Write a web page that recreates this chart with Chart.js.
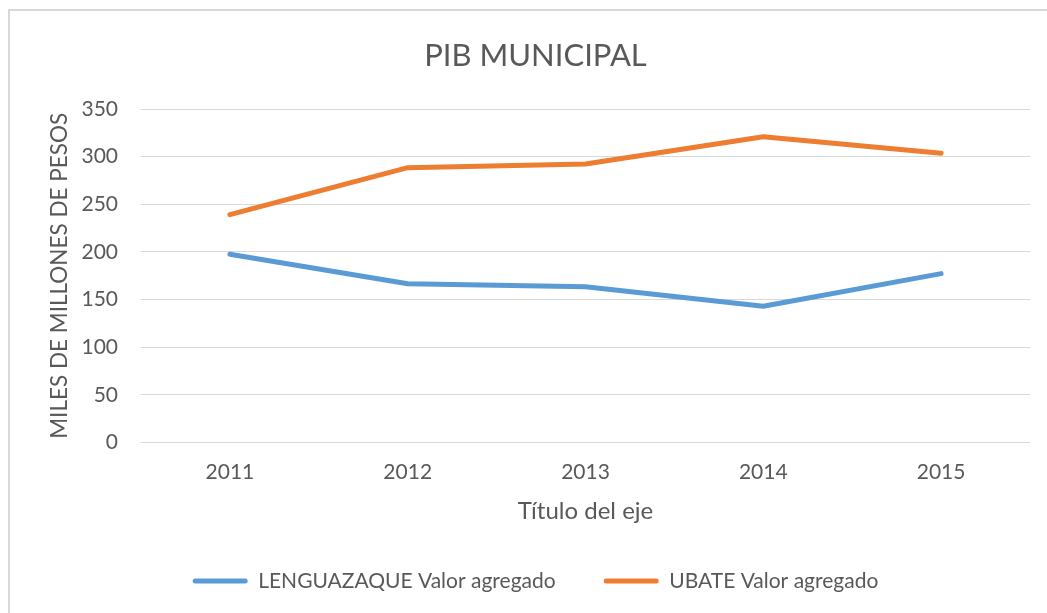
<!DOCTYPE html>
<html>
<head>
<meta charset="utf-8">
<script src="https://cdn.jsdelivr.net/npm/chart.js@4.4.1/dist/chart.umd.min.js"></script>
<style>
  html, body { margin: 0; padding: 0; background: #fff; }
  #wrap { position: relative; width: 1047px; height: 613px; overflow: hidden; }
  #frame { position: absolute; left: 8px; top: 9px; width: 1100px; height: 700px;
           border: 2px solid #d9d9d9; pointer-events: none; }
  canvas { position: absolute; left: 0; top: 0; }
</style>
</head>
<body>
<div id="wrap">
  <canvas id="c" width="1047" height="613"></canvas>
  <div id="frame"></div>
</div>
<script>
const years = ['2011', '2012', '2013', '2014', '2015'];
const lenguazaque = [197.6, 166.6, 163.4, 143.0, 177.2];
const ubate = [239.1, 288.4, 292.3, 320.8, 303.5];
const seriesNames = ['LENGUAZAQUE Valor agregado', 'UBATE Valor agregado'];
const yTicks = [0, 50, 100, 150, 200, 250, 300, 350];

const FONT = 'Lato, "Open Sans", sans-serif';
const TEXT = '#595959';
const GRID = '#d9d9d9';

new Chart(document.getElementById('c'), {
  type: 'line',
  data: {
    labels: years,
    datasets: [
      { label: seriesNames[0], data: lenguazaque, borderColor: '#5b9bd5', backgroundColor: '#5b9bd5' },
      { label: seriesNames[1], data: ubate, borderColor: '#ed7d31', backgroundColor: '#ed7d31' }
    ]
  },
  options: {
    responsive: false,
    animation: false,
    layout: { padding: { left: 24, right: 0, top: 0, bottom: 11.5 } },
    elements: {
      line: { borderWidth: 5, tension: 0, borderCapStyle: 'round', borderJoinStyle: 'round', fill: false },
      point: { radius: 0, hoverRadius: 0 }
    },
    plugins: {
      tooltip: { enabled: false },
      title: {
        display: true,
        text: 'PIB MUNICIPAL',
        color: TEXT,
        font: { family: FONT, size: 31, weight: 'normal', lineHeight: 1.2 },
        padding: { top: 37.4, bottom: 34.4 }
      },
      legend: {
        position: 'bottom',
        labels: {
          color: TEXT,
          font: { family: FONT, size: 21, lineHeight: 1.2 },
          boxWidth: 55,
          boxHeight: 5,
          padding: 48,
          useBorderRadius: true,
          borderRadius: 2.5,
          generateLabels(chart) {
            return Chart.defaults.plugins.legend.labels.generateLabels(chart).map(item => {
              item.fillStyle = item.strokeStyle;
              item.lineWidth = 0;
              return item;
            });
          }
        }
      }
    },
    scales: {
      x: {
        offset: true,
        afterFit(scale) { scale.height = 80; },
        grid: { display: false, drawTicks: false },
        border: { display: false },
        ticks: { color: TEXT, font: { family: FONT, size: 21, lineHeight: 1.2 }, padding: 17, maxRotation: 0 },
        title: {
          display: true,
          text: 'Título del eje',
          color: TEXT,
          font: { family: FONT, size: 24, lineHeight: 1.2 },
          padding: { top: 10, bottom: -3 }
        }
      },
      y: {
        min: 0,
        max: 350,
        afterBuildTicks(scale) { scale.ticks = yTicks.map(v => ({ value: v })); },
        afterFit(scale) { scale.width = 117; },
        grid: { color: GRID, lineWidth: 1, drawTicks: false },
        border: { display: false },
        ticks: { color: TEXT, font: { family: FONT, size: 21, lineHeight: 1.2 }, padding: 23 },
        title: {
          display: true,
          text: 'MILES DE MILLONES DE PESOS',
          color: TEXT,
          font: { family: FONT, size: 22.5, lineHeight: 1.2 },
          padding: { top: 22, bottom: 0 }
        }
      },
      yRight: {
        position: 'right',
        display: true,
        grid: { display: false },
        border: { display: false },
        ticks: { display: false },
        afterFit(scale) { scale.width = 17; }
      }
    }
  }
});
</script>
</body>
</html>
